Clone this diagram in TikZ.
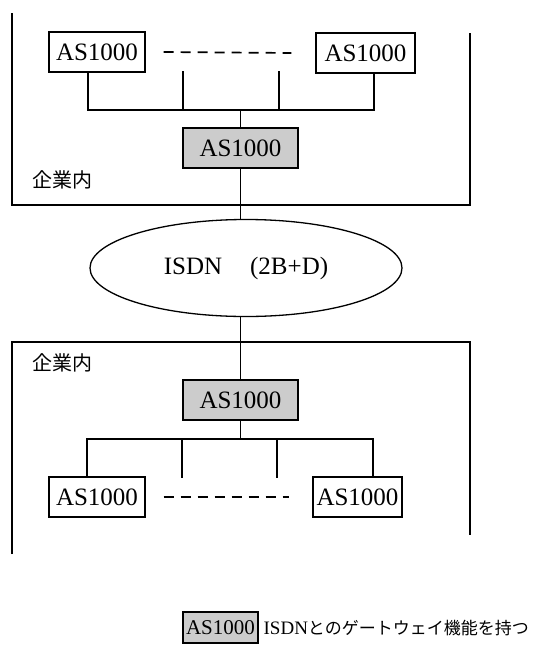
\documentclass[tikz,border=0pt]{standalone}
\usepackage{fontspec}
\setmainfont{Liberation Serif}
\newfontfamily\jp{Noto Sans CJK JP}
\usetikzlibrary{shapes.geometric,calc}
\begin{document}
\begin{tikzpicture}[x=1pt,y=-1pt,line width=1.3pt,
  asbox/.style={draw,rectangle,minimum height=40pt,inner sep=0pt,font=\fontsize{25}{25}\selectfont},
  gwbox/.style={asbox,fill=gray!40},
  frame/.style={line width=1.5pt},
  link/.style={line width=1.5pt},
  dashline/.style={line width=1.7pt,dash pattern=on 10pt off 7pt},
  jplabel/.style={font=\jp\fontsize{20}{20}\selectfont,inner sep=0pt}]
\useasboundingbox (0,0) rectangle (540,646);
% top site
\draw[frame] (12,13) -- (12,205) -- (470,205) -- (470,33);
\node[asbox,minimum width=96pt] (tl) at (97,52) {AS1000};
\node[asbox,minimum width=99pt] (tr) at (365.5,53) {AS1000};
\node[gwbox,minimum width=115pt] (g1) at (240.5,148) {AS1000};
\node[jplabel] (lab1) at (62,180) {企業内};
\draw[dashline] ([xshift=18pt]tl.east) -- ([xshift=-24pt]tr.west);
\coordinate (tb1) at (88,110);
\coordinate (tb2) at (183,110);
\coordinate (tb3) at (279,110);
\coordinate (tb4) at (374,110);
\coordinate (tt2) at (183,71);
\coordinate (tt3) at (279,71);
\draw[link] (tb1 |- tl.south) -- (tb1) -- (tb4) -- (tb4 |- tr.south);
\draw[link] (tt2) -- (tb2);
\draw[link] (tt3) -- (tb3);
\draw[link] (g1.north) -- (g1.north |- tb1);
% ISDN
\node[draw,ellipse,minimum width=312pt,minimum height=97pt,inner sep=0pt,font=\fontsize{25}{25}\selectfont] (isdn) at (246,268) {ISDN\hspace{28pt}(2B+D)};
\draw[link] (g1.south) -- (g1.south |- isdn.north);
% bottom site
\draw[frame] (12,554) -- (12,342) -- (470,342) -- (470,535);
\node[gwbox,minimum width=115pt] (g2) at (240.5,400) {AS1000};
\node[jplabel] (lab2) at (62,363) {企業内};
\node[asbox,minimum width=96pt] (bl) at (97,497) {AS1000};
\node[asbox,minimum width=89pt] (br) at (357.5,497) {AS1000};
\draw[link] (g2.north) -- (g2.north |- isdn.south);
\coordinate (bb1) at (87,439);
\coordinate (bb2) at (182,439);
\coordinate (bb3) at (277,439);
\coordinate (bb4) at (373,439);
\coordinate (bt2) at (182,478);
\coordinate (bt3) at (277,478);
\draw[link] (bb1 |- bl.north) -- (bb1) -- (bb4) -- (bb4 |- br.north);
\draw[link] (bb2) -- (bt2);
\draw[link] (bb3) -- (bt3);
\draw[link] (g2.south) -- (g2.south |- bb1);
\draw[dashline] ([xshift=18pt]bl.east) -- ([xshift=-23pt]br.west);
% legend
\node[gwbox,minimum width=75pt,minimum height=31pt,font=\fontsize{21}{21}\selectfont] (leg) at (220.5,627.5) {AS1000};
\node[anchor=west,inner sep=0pt,font=\fontsize{19}{19}\selectfont] (legtxt) at (263,628) {ISDN{\jp\fontsize{17}{17}\selectfont とのゲートウェイ機能を持つ}};
\end{tikzpicture}
\end{document}
